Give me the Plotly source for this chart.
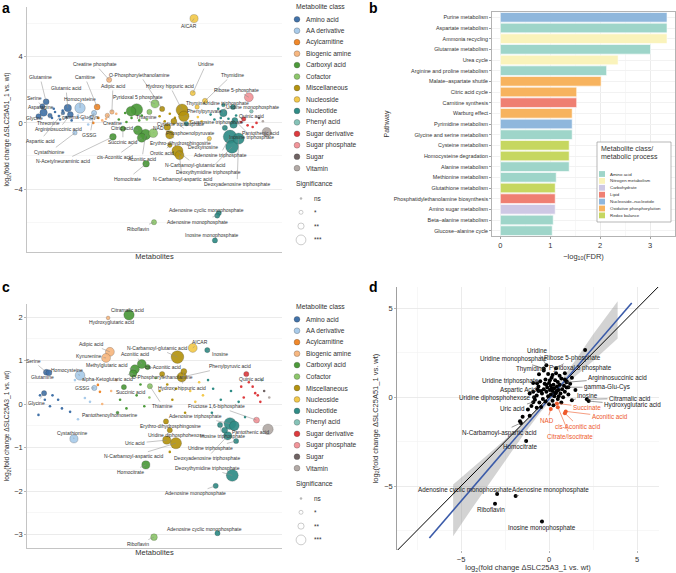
import plotly.graph_objects as go

W, H = 676, 573
FONT = "Liberation Sans, Arial, sans-serif"

# ---------------- classes ----------------
CLASS_NAMES = ["Amino acid", "AA derivative", "Acylcarnitine", "Biogenic amine", "Carboxyl acid",
               "Cofactor", "Miscellaneous", "Nucleoside", "Nucleotide", "Phenyl acid",
               "Sugar derivative", "Sugar phosphate", "Sugar", "Vitamin"]
CLASS_CODES = ["AA", "AAD", "AC", "BA", "CA", "CF", "MI", "NS", "NT", "PA", "SD", "SP", "SU", "VI"]
CLASS_COLORS = ["#4272A8", "#A9CBEA", "#F0882A", "#F7B780", "#4C9A3A", "#8DC66B", "#B4930F",
                "#F3C94B", "#2F8C86", "#86C3B8", "#DD3B3E", "#F2959A", "#6F6363", "#B3AAA6"]
SIG_LABELS = ["ns", "*", "**", "***"]

# ---------------- panel a data ----------------
a_names = ["AICAR", "Creatine phosphate", "Uridine", "Thymidine", "Ribose 5-phosphate", "Glutamine",
           "Serine", "Asparagine", "Glycine", "Threonine", "Glutamic acid", "Argininosuccinic acid",
           "Aspartic acid", "Homocysteine", "Cystathionine", "GSSG", "gamma-Glu-Cys", "Carnitine",
           "Adipic acid", "Creatine", "N-Acetylneuraminic acid", "Succinic acid", "Citric acid",
           "cis-Aconitic acid", "Aconitic acid", "Homocitrate", "Pyridoxal 5 phosphate", "Thiamine",
           "NAD", "Riboflavin", "O-Phosphorylethanolamine", "Hydroxy hippuric acid", "Phenylpyruvate",
           "Phosphoenolpyruvate", "Erythro-dihydrosphingosine", "Orotic acid",
           "N-Carbamoyl-glutamic acid", "N-Carbamoyl-aspartic acid", "Thymine", "Deoxyinosine",
           "Cytidine triphosphate", "Uridine triphosphate", "Uridine monophosphate",
           "Guanosine triphosphate", "Adenosine triphosphate", "Deoxythymidine triphosphate",
           "Deoxyadenosine triphosphate", "Inosine triphosphate", "Adenosine cyclic monophosphate",
           "Adenosine monophosphate", "Inosine monophosphate", "Quinic acid", "Pantothenic acid",
           "", "", "", "", "", ""]
a_class = ["NS", "BA", "NS", "NS", "SP", "AA",
           "AA", "AA", "AA", "AA", "AA", "AA",
           "AA", "AAD", "AAD", "AAD", "AAD", "AC",
           "BA", "BA", "CA", "CA", "CA",
           "CA", "CA", "CA", "CF", "CF",
           "CF", "CF", "MI", "MI", "MI",
           "MI", "MI", "MI",
           "MI", "MI", "NS", "NS",
           "NT", "NT", "NT",
           "NT", "NT", "NT",
           "NT", "NT", "NT",
           "NT", "NT", "SD", "VI",
           "CA", "CA", "NT", "NT", "PA", "MI"]
a_x = [65.5, 32.2, 65.0, 69.8, 87.0, 7.5,
       6.0, 6.5, 4.5, 9.0, 16.0, 17.0,
       14.1, 20.8, 18.8, 26.3, 25.0, 27.5,
       33.3, 31.5, 33.7, 37.6, 43.5,
       45.0, 46.5, 46.7, 50.2, 48.0,
       49.5, 49.8, 53.0, 60.8, 61.5,
       57.6, 56.0, 56.0,
       59.0, 59.8, 66.7, 71.5,
       62.5, 77.0, 80.8,
       77.6, 79.6, 80.4,
       83.0, 81.5, 75.2,
       74.6, 73.7, 85.0, 94.0,
       43.0, 40.8, 81.0, 77.0, 88.0, 55.0]
a_y = [6.3, 2.6, 1.8, 1.33, 1.55, 1.27,
       1.0, 0.62, 0.4, 0.45, 0.9, 0.5,
       0.6, 0.9, -0.6, 0.6, 0.3, 0.96,
       0.66, 0.45, -0.84, -0.35, -0.45,
       -0.9, -0.7, -2.47, 1.15, 0.66,
       -0.62, -6.0, 0.84, 0.78, 0.4,
       0.1, -0.72, -1.35,
       -1.7, -1.95, 0.96, -0.95,
       -0.05, 0.6, 0.96,
       -0.3, -0.84, -1.45,
       -0.95, 0.15, -5.45,
       -5.6, -7.1, 0.24, -0.55,
       0.8, 0.7, -0.1, 1.08, 0.7, -0.25]
a_logp = [4.0, 2.0, 2.0, 2.0, 4.5, 2.5,
          2.0, 3.5, 2.0, 1.5, 3.5, 2.5,
          1.0, 5.5, 1.5, 2.0, 1.5, 2.5,
          1.5, 1.5, 3.0, 2.0, 4.5,
          4.5, 5.5, 3.0, 4.0, 2.0,
          4.5, 2.0, 2.0, 6.5, 5.5,
          2.5, 4.0, 1.5,
          6.0, 4.5, 1.5, 1.5,
          1.5, 3.5, 2.0,
          2.0, 7.5, 7.0,
          6.0, 2.5, 2.0,
          2.0, 2.0, 1.5, 4.5,
          6.5, 5.0, 3.5, 1.0, 1.0, 3.0]
# non-significant metabolites (small dots)
a_ns_class = ["AA", "AA", "AA", "AA", "AA", "AA", "AA", "AA", "AAD", "AAD", "AAD", "AC", "AC",
              "BA", "BA", "BA", "CA", "CA", "CA", "CA", "CA", "CA", "CF", "MI", "MI", "MI", "MI",
              "NS", "NS", "NS", "NS", "NT", "NT", "NT", "NT", "NT", "NT", "SD", "SD", "SD", "SD",
              "SU", "VI"]
a_ns_x = [11, 12.5, 14, 9.8, 13, 10.5, 15.5, 17.5, 22, 24, 20, 28, 26,
          29.5, 35, 31, 36, 38.5, 39, 41, 44, 45, 47, 52, 54, 56, 58,
          63, 64, 67, 68.5, 72, 73.5, 75, 76, 79, 82, 84, 88.5, 90, 86.5,
          91, 92.5]
a_ns_y = [0.66, 0.42, 0.75, 0.3, 0.2, 0.85, 0.35, 0.15, 0.2, -0.1, 0.45, 0.3, 0.0,
          0.15, 0.55, 0.25, 0.2, 0.6, 0.05, 0.3, 0.15, 0.45, 0.2, 0.4, 0.1, 0.55, 0.3,
          0.5, 0.1, 0.35, 0.1, 0.5, 0.2, 0.85, 0.3, 0.25, 0.45, 0.05, -0.25, 0.0, -0.15,
          0.3, 0.1]

# label placement (layout only)
a_label_pos = {
    "AICAR": (63.5, 5.85), "Creatine phosphate": (26.7, 3.55), "Uridine": (70.2, 3.55),
    "Thymidine": (80.4, 2.9), "Ribose 5-phosphate": (82.0, 2.0), "Glutamine": (5.1, 2.77),
    "Carnitine": (22.7, 2.77), "O-Phosphorylethanolamine": (44.3, 2.9), "Glutamic acid": (15.3, 2.1),
    "Adipic acid": (33.7, 2.23), "Hydroxy hippuric acid": (56.0, 2.23), "Serine": (3.1, 1.5),
    "Homocysteine": (20.8, 1.45), "Pyridoxal 5 phosphate": (43.5, 1.57), "Asparagine": (5.5, 0.96),
    "Thymine": (66.0, 1.2), "Phenylpyruvate": (69.8, 0.72), "Uridine triphosphate": (78.4, 1.2),
    "Uridine monophosphate": (88.6, 0.96), "Quinic acid": (88.2, 0.42), "Glycine": (3.1, 0.3),
    "Threonine": (8.5, 0.0), "gamma-Glu-Cys": (20.8, 0.36), "Argininosuccinic acid": (12.5, -0.38),
    "Creatine": (33.7, 0.0), "Guanosine triphosphate": (74.5, 0.06), "Thiamine": (47.0, 0.36),
    "Citric acid": (37.3, -0.3), "NAD": (51.4, -0.3), "Cytidine triphosphate": (60.0, -0.06),
    "GSSG": (24.7, -0.72), "Phosphoenolpyruvate": (64.0, -0.6), "Pantothenic acid": (91.4, -0.6),
    "Inosine triphosphate": (88.0, -0.85), "Aspartic acid": (5.1, -1.08), "Succinic acid": (37.6, -1.14),
    "Cystathionine": (9.0, -1.75), "Erythro-dihydrosphingosine": (60.0, -1.2), "Deoxyinosine": (69.0, -1.45),
    "Orotic acid": (53.0, -1.8), "Adenosine triphosphate": (75.7, -1.93), "cis-Aconitic acid": (34.5, -2.05),
    "Aconitic acid": (45.1, -2.17), "N-Acetylneuraminic acid": (14.1, -2.3),
    "N-Carbamoyl-glutamic acid": (65.9, -2.53), "Deoxythymidine triphosphate": (71.0, -2.95),
    "Homocitrate": (39.6, -3.37), "N-Carbamoyl-aspartic acid": (60.8, -3.37),
    "Deoxyadenosine triphosphate": (82.4, -3.67), "Adenosine cyclic monophosphate": (70.2, -5.24),
    "Adenosine monophosphate": (67.0, -5.96), "Riboflavin": (43.5, -6.39),
    "Inosine monophosphate": (72.5, -6.8),
}

# ---------------- panel c data ----------------
c_names = ["Citramalic acid", "Hydroxyglutaric acid", "Adipic acid", "Kynurenine",
           "N-Carbamoyl-glutamic acid", "AICAR", "Inosine", "Aconitic acid", "cis-Aconitic acid",
           "Methylglutaric acid", "alpha-Ketoglutaric acid", "O-Phosphorylethanolamine",
           "Phenylpyruvic acid", "Hydroxy hippuric acid", "Serine", "Glutamine", "Homocysteine",
           "GSSG", "Succinic acid", "Thiamine", "Glycine", "Fructose 1,6-biphosphate", "Quinic acid",
           "Pantothenic acid", "Pantothenoylhomoserine", "Adenosine triphosphate", "Cystathionine",
           "Erythro-dihydrosphingosine", "Uridine diphosphohexose", "Uric acid",
           "N-Carbamoyl-aspartic acid", "Homocitrate", "Inosine triphosphate", "Uridine triphosphate",
           "Deoxyadenosine triphosphate", "Deoxythymidine triphosphate", "Adenosine monophosphate",
           "Adenosine cyclic monophosphate", "Riboflavin", "", ""]
c_class = ["CA", "BA", "BA", "BA",
           "MI", "NS", "NT", "CA", "CA",
           "CA", "CA", "MI",
           "MI", "MI", "AA", "AA", "AAD",
           "AAD", "CA", "CF", "AA", "SP", "SD",
           "VI", "CA", "NT", "AAD",
           "MI", "MI", "MI",
           "MI", "CA", "NT", "NT",
           "NT", "NT", "NT",
           "NT", "CF", "NT", "NT"]
c_x = [40.0, 31.8, 32.5, 31.0,
       59.0, 65.0, 70.7, 45.0, 47.3,
       42.3, 41.6, 53.0,
       60.7, 61.5, 7.6, 8.6, 20.8,
       26.4, 38.0, 48.2, 6.7, 90.0, 86.0,
       94.5, 35.5, 79.6, 18.4,
       54.5, 56.0, 54.8,
       58.4, 46.6, 75.7, 82.0,
       78.7, 80.5, 74.0,
       74.7, 49.8, 81.3, 77.5]
c_y = [2.05, 1.98, 1.2, 1.06,
       1.08, 1.29, 1.24, 0.92, 0.85,
       0.8, 0.7, 0.69,
       0.62, 0.75, 0.73, 0.72, 0.66,
       0.37, 0.39, 0.41, 0.25, -0.37, 0.69,
       -0.58, -0.2, -0.45, -0.8,
       -0.4, -0.6, -0.83,
       -0.9, -1.4, -0.48, -0.85,
       -0.73, -1.64, -1.88,
       -2.97, -3.06, -0.5, -0.6]
c_logp = [5.5, 1.0, 4.5, 4.5,
          7.0, 4.5, 2.0, 4.5, 2.0,
          4.5, 3.5, 2.0,
          5.0, 2.5, 2.5, 2.5, 5.0,
          2.0, 2.0, 2.0, 2.0, 2.5, 2.0,
          5.5, 0.5, 6.5, 4.0,
          2.0, 2.0, 4.0,
          6.0, 4.0, 2.0, 2.0,
          4.0, 6.5, 2.0,
          2.0, 3.0, 5.0, 2.5]
c_ns_class = ["AA", "AA", "AA", "AA", "AA", "AA", "AA", "AA", "AAD", "AAD", "AAD", "AAD", "AC", "AC",
              "BA", "BA", "BA", "CA", "CA", "CA", "CA", "CA", "CF", "CF", "MI", "MI", "MI", "MI",
              "MI", "MI", "NS", "NS", "NS", "NS", "NT", "NT", "NT", "NT", "NT", "NT", "NT",
              "SD", "SD", "SD", "SD", "SD", "SD", "SD", "PA", "SU", "VI"]
c_ns_x = [5.1, 7, 10, 12.2, 13.7, 16.9, 4.5, 9, 18.8, 22.7, 24.7, 20, 27.8, 28.6,
          29.5, 33, 35, 36.5, 39, 43, 44.5, 46, 48, 50.5, 52, 55, 57, 58.5,
          62, 56, 64, 66, 67.5, 69, 71, 72.5, 73, 76, 80, 83, 85.5,
          84, 87, 88.5, 89.5, 90.5, 85, 91.5, 92, 93, 95]
c_ns_y = [0.2, 0.1, 0.2, 0.1, -0.1, -0.18, -0.25, -0.05, 0.55, 0.14, 0.05, -0.35, 0.44, 0.28,
          0.0, 0.3, 0.55, 0.1, -0.1, 0.2, 0.45, -0.05, 0.15, 0.6, 0.3, 0.45, 0.1, 0.35,
          -0.2, -1.1, 0.3, 0.05, 0.5, 0.2, 0.55, -0.2, 0.35, 0.1, 0.3, 0.05, -0.3,
          0.4, 0.5, 0.4, 0.25, 0.2, 0.15, 0.05, 0.55, 0.3, 0.15]
c_label_pos = {
    "Citramalic acid": (39.6, 2.16), "Hydroxyglutaric acid": (33.3, 1.89), "Adipic acid": (25.1, 1.38),
    "Kynurenine": (24.3, 1.1), "N-Carbamoyl-glutamic acid": (51.0, 1.29), "AICAR": (67.8, 1.43),
    "Inosine": (75.5, 1.15), "Aconitic acid": (42.4, 1.15), "cis-Aconitic acid": (53.3, 0.85),
    "Methylglutaric acid": (31.4, 0.9), "alpha-Ketoglutaric acid": (31.4, 0.57),
    "O-Phosphorylethanolamine": (53.3, 0.62), "Phenylpyruvic acid": (79.5, 0.87),
    "Hydroxy hippuric acid": (60.8, 0.37), "Serine": (2.4, 0.99), "Glutamine": (5.9, 0.62),
    "Homocysteine": (15.7, 0.78), "GSSG": (21.6, 0.37), "Succinic acid": (40.4, 0.28),
    "Thiamine": (53.3, -0.05), "Glycine": (3.9, 0.02), "Fructose 1,6-biphosphate": (74.5, -0.05),
    "Quinic acid": (88.2, 0.57), "Pantothenic acid": (87.5, -0.64),
    "Pantothenoylhomoserine": (32.5, -0.25), "Adenosine triphosphate": (65.9, -0.28),
    "Cystathionine": (18.0, -0.67), "Erythro-dihydrosphingosine": (56.1, -0.5),
    "Uridine diphosphohexose": (58.8, -0.71), "Uric acid": (42.4, -0.9),
    "N-Carbamoyl-aspartic acid": (41.6, -1.2), "Homocitrate": (40.4, -1.56),
    "Inosine triphosphate": (76.5, -0.74), "Uridine triphosphate": (71.8, -1.01),
    "Deoxyadenosine triphosphate": (70.6, -1.24), "Deoxythymidine triphosphate": (70.6, -1.47),
    "Adenosine monophosphate": (65.9, -2.05), "Adenosine cyclic monophosphate": (69.8, -2.87),
    "Riboflavin": (43.5, -3.22),
}

# ---------------- panel b data ----------------
b_pathways = ["Purine metabolism", "Aspartate metabolism", "Ammonia recycling", "Glutamate metabolism",
              "Urea cycle", "Arginine and proline metabolism", "Malate–aspartate shuttle",
              "Citric acid cycle", "Carnitine synthesis", "Warburg effect", "Pyrimidine metabolism",
              "Glycine and serine metabolism", "Cysteine metabolism", "Homocysteine degradation",
              "Alanine metabolism", "Methionine metabolism", "Glutathione metabolism",
              "Phosphatidylethanolamine biosynthesis", "Amino sugar metabolism",
              "Beta–alanine metabolism", "Glucose–alanine cycle"]
b_neglog_fdr = [3.34, 3.34, 3.34, 3.01, 2.36, 2.13, 2.02, 1.53, 1.53, 1.44, 1.44,
                1.44, 1.38, 1.38, 1.38, 1.12, 1.10, 1.10, 1.10, 1.06, 1.04]
b_process = ["Nucleoside–nucleotide", "Amino acid", "Nitrogen metabolism", "Amino acid",
             "Nitrogen metabolism", "Amino acid", "Oxidative phosphorylation",
             "Oxidative phosphorylation", "Lipid", "Oxidative phosphorylation", "Nucleoside–nucleotide",
             "Amino acid", "Redox balance", "Redox balance", "Amino acid", "Amino acid",
             "Redox balance", "Lipid", "Carbohydrate", "Amino acid", "Amino acid"]
B_PROCESSES = ["Amino acid", "Nitrogen metabolism", "Carbohydrate", "Lipid", "Nucleoside–nucleotide",
               "Oxidative phosphorylation", "Redox balance"]
B_COLORS = ["#9ED5C9", "#FAF3BB", "#CEC8E4", "#EF7F72", "#8FB7DC", "#F7B35E", "#C6D760"]

# ---------------- panel d data ----------------
d_names = ["Uridine", "Uridine monophosphate", "Thymidine", "Ribose 5-phosphate", "Pyridoxal 5 phosphate",
           "Argininosuccinic acid", "Uridine triphosphate", "gamma-Glu-Cys", "Aspartic Acid",
           "Uridine diphosphohexose", "Uric acid", "Inosine", "Citramalic acid", "Hydroxyglutaric acid",
           "Succinate", "NAD", "Aconitic acid", "cis-Aconitic acid", "Citrate/Isocitrate",
           "N-Carbamoyl-aspartic acid", "Homocitrate", "Adenosine cyclic monophosphate",
           "Adenosine monophosphate", "Riboflavin", "Inosine monophosphate"]
d_x = [-0.15, -0.3, -0.57, 0.4, 0.9, 1.0, -0.68, 1.1, -0.6, -0.85, -0.9, 1.3, 2.15, 2.25,
       0.45, 0.1, 0.95, 0.9, 0.5, -1.6, -1.3, -2.95, -1.9, -3.07, -0.4]
d_y = [1.8, 1.62, 1.29, 1.63, 1.35, 0.84, 0.79, 0.56, 0.35, 0.0, -0.28, -0.17, -0.12, -0.22,
       -0.35, -0.67, -0.8, -0.9, -0.56, -1.45, -2.47, -5.45, -5.56, -6.0, -7.0]
d_tca = [False] * 14 + [True] * 5 + [False] * 6
d_other_x = [-0.9, -0.7, -0.6, -0.5, -0.4, -0.35, -0.3, -0.25, -0.2, -0.15, -0.1, -0.05, 0.0, 0.05,
             0.1, 0.1, 0.15, 0.2, 0.25, 0.3, 0.3, 0.35, 0.4, 0.45, 0.5, 0.5, 0.55, 0.6, 0.65, 0.7,
             0.75, 0.8, 0.85, 0.9, 1.0, 1.1, 1.2, -0.8, -0.65, -0.55, -0.45, -0.2, 0.0, 0.2, -1.0,
             -1.2, -0.7, -1.5, -1.1, -1.65, 0.6, 0.4, 0.2, -0.05, 0.9, 1.3, 1.5, -0.3, 0.7, 1.0,
             -1.1, -0.9, 0.25, 0.05, -0.45, 0.35, 0.55, -0.15, 0.15, 0.45, 2.05]
d_other_y = [0.3, 0.1, 0.6, 0.9, 0.2, -0.1, 0.45, 0.75, 1.0, 0.3, 0.55, 0.05, 0.8, 0.4,
             0.65, 0.15, 1.1, 0.35, 0.7, 0.05, 0.5, 0.95, 0.25, 0.6, 0.85, -0.1, 0.4, 0.7, 0.2, 1.05,
             0.45, 0.0, 0.65, 0.3, 0.55, 0.15, 0.75, -0.15, 0.45, -0.3, 0.35, -0.25, -0.4, -0.2, -0.5,
             -0.7, -0.6, -1.1, -1.05, -1.35, 1.2, 1.35, 1.25, 1.3, 1.0, 1.1, 0.4, 1.5, -0.3, 0.9,
             0.2, 0.8, -0.45, 0.95, -0.55, 0.2, 0.05, 0.7, 0.5, 0.35, 2.65]
# linear fit and its confidence band
fit_x = [-6.8, 4.7]
fit_y = [-7.92, 5.3]
band_x = [-5.45, -4.5, -3.5, -2.5, -1.5, -0.5, 0.5, 1.5, 2.5, 3.9]
band_hi = [-4.92, -4.13, -3.26, -2.38, -1.48, -0.5, 0.7, 2.08, 3.53, 5.4]
band_lo = [-7.82, -6.43, -5.0, -3.58, -2.18, -0.86, 0.26, 1.18, 2.03, 3.3]
d_label_pos = {
    "Uridine": (-0.68, 2.64), "Uridine monophosphate": (-2.0, 2.13), "Thymidine": (-1.0, 1.57),
    "Ribose 5-phosphate": (1.36, 2.19), "Pyridoxal 5 phosphate": (1.76, 1.63),
    "Argininosuccinic acid": (3.9, 1.07), "Uridine triphosphate": (-2.2, 0.9),
    "gamma-Glu-Cys": (3.3, 0.56), "Aspartic Acid": (-1.76, 0.39), "Uridine diphosphohexose": (-3.07, -0.06),
    "Uric acid": (-2.05, -0.62), "Inosine": (2.2, 0.11), "Citramalic acid": (4.6, -0.06),
    "Hydroxyglutaric acid": (4.75, -0.45), "Succinate": (2.15, -0.56), "NAD": (-0.1, -1.3),
    "Aconitic acid": (3.45, -1.1), "cis-Aconitic acid": (1.65, -1.63), "Citrate/Isocitrate": (1.2, -2.2),
    "N-Carbamoyl-aspartic acid": (-2.8, -2.0), "Homocitrate": (-1.65, -2.8),
    "Adenosine cyclic monophosphate": (-4.77, -5.22), "Adenosine monophosphate": (0.1, -5.22),
    "Riboflavin": (-3.3, -6.3), "Inosine monophosphate": (-0.4, -7.36),
}

# ---------------- helpers ----------------
def fx(px):
    return px / W


def fy(py):
    return 1 - py / H


def msize(lp):
    return 2.2 + 1.5 * lp


color_of = dict(zip(CLASS_CODES, CLASS_COLORS))
fig = go.Figure()
annotations = []
shapes = []


def bubble_panel(names, cls, xs, ys, lps, ns_cls, ns_x, ns_y, lab_pos, xa, ya):
    fig.add_trace(go.Scatter(
        x=ns_x, y=ns_y, mode="markers", xaxis=xa, yaxis=ya, showlegend=False, hoverinfo="skip",
        marker=dict(size=2.6, color=[color_of[c] for c in ns_cls], line=dict(width=0))))
    order = sorted(range(len(xs)), key=lambda i: -lps[i])
    fig.add_trace(go.Scatter(
        x=[xs[i] for i in order], y=[ys[i] for i in order], mode="markers", xaxis=xa, yaxis=ya,
        showlegend=False, text=[names[i] for i in order],
        marker=dict(size=[msize(lps[i]) for i in order], color=[color_of[cls[i]] for i in order],
                    opacity=0.92, line=dict(width=0.5, color="rgba(40,40,40,0.45)"))))
    for n, x, y in zip(names, xs, ys):
        if n and n in lab_pos:
            lx, ly = lab_pos[n]
            annotations.append(dict(
                x=x, y=y, xref=xa, yref=ya, ax=lx, ay=ly, axref=xa, ayref=ya, text=n,
                showarrow=True, arrowhead=0, arrowwidth=0.5, arrowcolor="#8a8a8a",
                font=dict(size=5, color="#333333", family=FONT)))


bubble_panel(a_names, a_class, a_x, a_y, a_logp, a_ns_class, a_ns_x, a_ns_y, a_label_pos, "x", "y")
bubble_panel(c_names, c_class, c_x, c_y, c_logp, c_ns_class, c_ns_x, c_ns_y, c_label_pos, "x3", "y3")

# panel b bars
b_color_of = dict(zip(B_PROCESSES, B_COLORS))
fig.add_trace(go.Bar(
    x=b_neglog_fdr, y=b_pathways, orientation="h", xaxis="x2", yaxis="y2", showlegend=False,
    marker=dict(color=[b_color_of[p] for p in b_process], line=dict(width=0.6, color="white"))))

# panel d
D_XR = [-8.64, 6.25]
D_YR = [-8.6, 6.2]
fig.add_trace(go.Scatter(
    x=band_x + band_x[::-1], y=band_hi + band_lo[::-1], fill="toself", mode="lines",
    fillcolor="rgba(150,150,150,0.42)", line=dict(width=0), xaxis="x4", yaxis="y4",
    showlegend=False, hoverinfo="skip"))
fig.add_trace(go.Scatter(x=D_XR, y=D_XR, mode="lines", line=dict(color="black", width=1),
                         xaxis="x4", yaxis="y4", showlegend=False, hoverinfo="skip"))
fig.add_trace(go.Scatter(x=fit_x, y=fit_y, mode="lines", line=dict(color="#3B5BA9", width=1.6),
                         xaxis="x4", yaxis="y4", showlegend=False, hoverinfo="skip"))
fig.add_trace(go.Scatter(x=d_other_x, y=d_other_y, mode="markers", xaxis="x4", yaxis="y4",
                         marker=dict(size=4, color="black"), showlegend=False))
RED = "#EE5A2C"
fig.add_trace(go.Scatter(x=d_x, y=d_y, mode="markers", xaxis="x4", yaxis="y4", text=d_names,
                         marker=dict(size=4, color=[RED if t else "black" for t in d_tca]),
                         showlegend=False))
for n, x, y, t in zip(d_names, d_x, d_y, d_tca):
    lx, ly = d_label_pos[n]
    col = RED if t else "#222222"
    annotations.append(dict(
        x=x, y=y, xref="x4", yref="y4", ax=lx, ay=ly, axref="x4", ayref="y4", text=n,
        showarrow=True, arrowhead=0, arrowwidth=0.6, arrowcolor=RED if t else "#555555",
        font=dict(size=6.3, color=col, family=FONT)))

# ---------------- legends (drawn) ----------------
def class_legend(top):
    annotations.append(dict(x=fx(294), y=fy(top), xref="paper", yref="paper", text="Metabolite class",
                            showarrow=False, xanchor="left", yanchor="middle",
                            font=dict(size=6.8, color="#333", family=FONT)))
    step = 11.45
    for i, (nm, col) in enumerate(zip(CLASS_NAMES, CLASS_COLORS)):
        cy = top + 13.3 + i * step
        r = 2.9
        shapes.append(dict(type="circle", xref="paper", yref="paper", x0=fx(297 - r), x1=fx(297 + r),
                           y0=fy(cy + r), y1=fy(cy - r), fillcolor=col,
                           line=dict(color="rgba(40,40,40,0.5)", width=0.5)))
        annotations.append(dict(x=fx(304), y=fy(cy), xref="paper", yref="paper", text=nm,
                                showarrow=False, xanchor="left", yanchor="middle",
                                font=dict(size=6.6, color="#333", family=FONT)))
    stop = top + 178
    annotations.append(dict(x=fx(294), y=fy(stop), xref="paper", yref="paper", text="Significance",
                            showarrow=False, xanchor="left", yanchor="middle",
                            font=dict(size=6.8, color="#333", family=FONT)))
    radii = [0.9, 2.0, 3.1, 4.9]
    for j, (lab, r) in enumerate(zip(SIG_LABELS, radii)):
        cy = stop + 14.5 + j * 13.8
        shapes.append(dict(type="circle", xref="paper", yref="paper", x0=fx(301 - r), x1=fx(301 + r),
                           y0=fy(cy + r), y1=fy(cy - r),
                           fillcolor="#bbbbbb" if j == 0 else "white",
                           line=dict(color="#aaaaaa", width=0.6)))
        annotations.append(dict(x=fx(312), y=fy(cy), xref="paper", yref="paper", text=lab,
                                showarrow=False, xanchor="left", yanchor="middle",
                                font=dict(size=6.4, color="#333", family=FONT)))


class_legend(6)
class_legend(306)

# panel b legend box
shapes.append(dict(type="rect", xref="paper", yref="paper", x0=fx(597), x1=fx(671), y0=fy(222), y1=fy(142),
                   fillcolor="white", line=dict(color="#999999", width=0.7)))
annotations.append(dict(x=fx(599), y=fy(148), xref="paper", yref="paper", text="Metabolite class/",
                        showarrow=False, xanchor="left", yanchor="middle",
                        font=dict(size=7, color="#333", family=FONT)))
annotations.append(dict(x=fx(599), y=fy(157.5), xref="paper", yref="paper", text="metabolic process",
                        showarrow=False, xanchor="left", yanchor="middle",
                        font=dict(size=7, color="#333", family=FONT)))
for i, (nm, col) in enumerate(zip(B_PROCESSES, B_COLORS)):
    cy = 174 + i * 6.9
    shapes.append(dict(type="rect", xref="paper", yref="paper", x0=fx(599), x1=fx(605),
                       y0=fy(cy + 2.9), y1=fy(cy - 2.9), fillcolor=col, line=dict(width=0)))
    annotations.append(dict(x=fx(607.5), y=fy(cy), xref="paper", yref="paper", text=nm,
                            showarrow=False, xanchor="left", yanchor="middle",
                            font=dict(size=4.4, color="#333", family=FONT)))

# panel letters
for letter, px, py in [("a", 6, 8), ("b", 373, 8), ("c", 6, 287), ("d", 373, 287)]:
    annotations.append(dict(x=fx(px), y=fy(py), xref="paper", yref="paper", text="<b>%s</b>" % letter,
                            showarrow=False, xanchor="center", yanchor="middle",
                            font=dict(size=14, color="black", family=FONT)))

# ---------------- axes ----------------
GRID = "#e6e6e6"
MINOR = "#f2f2f2"
LINE = "#b5b5b5"
TICKF = dict(size=7.5, color="#333", family=FONT)
Y_TITLE_A = "log<sub>2</sub>(fold change ΔSLC25A51_1 vs. wt)"
Y_TITLE_C = "log<sub>2</sub>(fold change ΔSLC25A3_1 vs. wt)"


def bubble_x():
    return dict(range=[0, 100], showticklabels=False, showgrid=False, zeroline=False, automargin=False,
                showline=True, linecolor=LINE, linewidth=0.8, ticks="",
                title=dict(text="Metabolites", font=dict(size=7.5, color="#333", family=FONT), standoff=1))


layout = dict(
    width=W, height=H, autosize=False, margin=dict(l=0, r=0, t=0, b=0, autoexpand=False),
    paper_bgcolor="white", plot_bgcolor="white", font=dict(family=FONT, color="#333"),
    showlegend=False, bargap=0.1, hovermode=False,
    xaxis=dict(domain=[fx(27), fx(282)], anchor="y", **bubble_x()),
    yaxis=dict(domain=[fy(252), fy(7)], anchor="x", range=[-7.8, 7.0], tick0=0, dtick=4, automargin=False,
               showgrid=True, gridcolor=GRID, gridwidth=0.8, zeroline=False,
               minor=dict(dtick=2, tick0=0, showgrid=True, gridcolor=MINOR, gridwidth=0.6),
               showline=True, linecolor=LINE, linewidth=0.8, ticks="outside", ticklen=2,
               tickcolor=LINE, tickfont=TICKF,
               title=dict(text=Y_TITLE_A, font=dict(size=6.6, color="#333", family=FONT), standoff=3)),
    xaxis3=dict(domain=[fx(27), fx(282)], anchor="y3", **bubble_x()),
    yaxis3=dict(domain=[fy(548), fy(304)], anchor="x3", range=[-3.31, 2.3], tick0=0, dtick=1,
                automargin=False,
                showgrid=True, gridcolor=GRID, gridwidth=0.8, zeroline=False,
                minor=dict(dtick=0.5, tick0=0, showgrid=True, gridcolor=MINOR, gridwidth=0.6),
                showline=True, linecolor=LINE, linewidth=0.8, ticks="outside", ticklen=2,
                tickcolor=LINE, tickfont=TICKF,
                title=dict(text=Y_TITLE_C, font=dict(size=6.6, color="#333", family=FONT), standoff=3)),
    xaxis2=dict(domain=[fx(492), fx(675)], anchor="y2", range=[-0.167, 3.5], tick0=0, dtick=1,
                automargin=False,
                showgrid=True, gridcolor=GRID, gridwidth=0.8, zeroline=False,
                minor=dict(dtick=0.5, tick0=0, showgrid=True, gridcolor=MINOR, gridwidth=0.6),
                showline=True, mirror=True, linecolor="#a0a0a0", linewidth=0.8,
                ticks="outside", ticklen=2, tickcolor="#a0a0a0", tickfont=TICKF,
                title=dict(text="−log<sub>10</sub>(FDR)", font=dict(size=7.5, color="#333", family=FONT),
                           standoff=4)),
    yaxis2=dict(domain=[fy(236), fy(12)], anchor="x2", type="category", categoryorder="array",
                categoryarray=b_pathways, autorange="reversed", showgrid=True, gridcolor=MINOR,
                automargin=False,
                showline=True, mirror=True, linecolor="#a0a0a0", linewidth=0.8,
                ticks="outside", ticklen=2, tickcolor="#a0a0a0",
                tickfont=dict(size=5.4, color="#333", family=FONT),
                title=dict(text="Pathway", font=dict(size=7, color="#333", family=FONT), standoff=3)),
    xaxis4=dict(domain=[fx(397), fx(659)], anchor="y4", range=D_XR, tick0=0, dtick=5, automargin=False,
                showgrid=True, gridcolor=GRID, gridwidth=0.8, zeroline=False,
                minor=dict(dtick=2.5, tick0=0, showgrid=True, gridcolor=MINOR, gridwidth=0.6),
                showline=False, ticks="outside", ticklen=2, tickcolor=LINE, tickfont=TICKF,
                title=dict(text="log<sub>2</sub>(fold change ΔSLC25A3_1 vs. wt)",
                           font=dict(size=7.5, color="#333", family=FONT), standoff=2)),
    yaxis4=dict(domain=[fy(550), fy(287)], anchor="x4", range=D_YR, tick0=0, dtick=5, automargin=False,
                showgrid=True, gridcolor=GRID, gridwidth=0.8, zeroline=False,
                minor=dict(dtick=2.5, tick0=0, showgrid=True, gridcolor=MINOR, gridwidth=0.6),
                showline=True, linecolor="#888888", linewidth=0.8, ticks="outside", ticklen=2,
                tickcolor=LINE, tickfont=TICKF,
                title=dict(text="log<sub>2</sub>(fold change ΔSLC25A51_1 vs. wt)",
                           font=dict(size=7.5, color="#333", family=FONT), standoff=4)),
    annotations=annotations,
    shapes=shapes,
)
fig.update_layout(**layout)
fig.write_html("out.html", config={"displayModeBar": False, "staticPlot": True},
               post_script="document.body.style.margin='0px';document.body.style.overflow='hidden';")
